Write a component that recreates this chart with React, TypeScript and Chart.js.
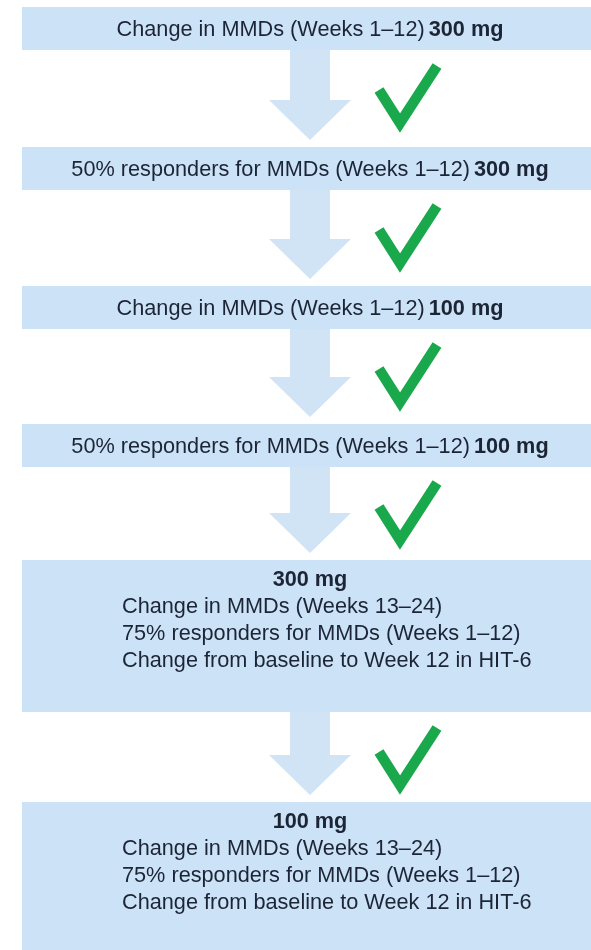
import React, { useEffect, useRef } from 'react';
import { Chart, registerables } from 'chart.js';

Chart.register(...registerables);

// ---- Data ----
const doses: string[] = ['300 mg', '300 mg', '100 mg', '100 mg', '300 mg', '100 mg'];
const endpoints: string[][] = [
  ['Change in MMDs (Weeks 1–12)'],
  ['50% responders for MMDs (Weeks 1–12)'],
  ['Change in MMDs (Weeks 1–12)'],
  ['50% responders for MMDs (Weeks 1–12)'],
  ['Change in MMDs (Weeks 13–24)', '75% responders for MMDs (Weeks 1–12)', 'Change from baseline to Week 12 in HIT-6'],
  ['Change in MMDs (Weeks 13–24)', '75% responders for MMDs (Weeks 1–12)', 'Change from baseline to Week 12 in HIT-6'],
];
const significant: boolean[] = [true, true, true, true, true];

// ---- Styles / layout (scale units) ----
const W = 591;
const H = 950;
const FONT = '"Liberation Sans", Arial, sans-serif';
const FONT_SIZE = 21.7;
const BOX_COLOR = '#cce2f6';
const ARROW_COLOR = '#d1e4f6';
const TEXT_COLOR = '#1c2536';
const CHECK_COLOR = '#19a84b';
const GAPS = [97, 96, 95, 93, 90];

const flowPlugin = {
  id: 'flow',
  beforeDraw(chart: any) {
    const { ctx, scales } = chart;
    const xs = scales.x;
    const ys = scales.y;
    const px = (v: number) => xs.getPixelForValue(v);
    const py = (v: number) => ys.getPixelForValue(v);

    const left = 22;
    const right = 620;
    const cx = 310;
    const singleH = 43;
    const multiH = 152;

    const boxes: { top: number; bottom: number }[] = [];
    let top = 7;
    endpoints.forEach((lines, i) => {
      const h = lines.length > 1 ? multiH : singleH;
      boxes.push({ top, bottom: top + h });
      top += h + (GAPS[i] ?? 95);
    });

    ctx.save();
    ctx.fillStyle = '#ffffff';
    ctx.fillRect(0, 0, chart.width, chart.height);

    for (let i = 0; i < boxes.length - 1; i++) {
      const b0 = boxes[i].bottom;
      const tip = boxes[i + 1].top - 7;
      const headStart = tip - 40;
      ctx.fillStyle = ARROW_COLOR;
      ctx.beginPath();
      ctx.moveTo(px(cx - 20), py(b0));
      ctx.lineTo(px(cx + 20), py(b0));
      ctx.lineTo(px(cx + 20), py(headStart));
      ctx.lineTo(px(cx + 41), py(headStart));
      ctx.lineTo(px(cx), py(tip));
      ctx.lineTo(px(cx - 41), py(headStart));
      ctx.lineTo(px(cx - 20), py(headStart));
      ctx.closePath();
      ctx.fill();

      if (significant[i]) {
        ctx.strokeStyle = CHECK_COLOR;
        ctx.lineWidth = 10.5;
        ctx.lineCap = 'butt';
        ctx.lineJoin = 'miter';
        ctx.beginPath();
        ctx.moveTo(px(379), py(b0 + 40));
        ctx.lineTo(px(400), py(b0 + 73));
        ctx.lineTo(px(437), py(b0 + 16));
        ctx.stroke();
      }
    }

    boxes.forEach((b) => {
      ctx.fillStyle = BOX_COLOR;
      ctx.fillRect(px(left), py(b.top), px(right) - px(left), py(b.bottom) - py(b.top));
    });

    ctx.fillStyle = TEXT_COLOR;
    ctx.textBaseline = 'alphabetic';
    const reg = `${FONT_SIZE}px ${FONT}`;
    const bold = `bold ${FONT_SIZE}px ${FONT}`;
    endpoints.forEach((lines, i) => {
      const b = boxes[i];
      if (lines.length === 1) {
        ctx.font = reg;
        const w1 = ctx.measureText(lines[0]).width;
        ctx.font = bold;
        const w2 = ctx.measureText(doses[i]).width;
        const sp = 4;
        const total = w1 + sp + w2;
        const x0 = px(cx) - total / 2;
        const base = py((b.top + b.bottom) / 2 + 7.5);
        ctx.textAlign = 'left';
        ctx.font = reg;
        ctx.fillText(lines[0], x0, base);
        ctx.font = bold;
        ctx.fillText(doses[i], x0 + w1 + sp, base);
      } else {
        ctx.font = bold;
        ctx.textAlign = 'center';
        ctx.fillText(doses[i], px(cx), py(b.top + 26));
        ctx.font = reg;
        ctx.textAlign = 'left';
        lines.forEach((ln, j) => {
          ctx.fillText(ln, px(122), py(b.top + 26 + 27 * (j + 1)));
        });
      }
    });
    ctx.restore();
  },
};

export default function App() {
  const ref = useRef<HTMLCanvasElement | null>(null);
  useEffect(() => {
    document.body.style.margin = '0';
    const canvas = ref.current;
    if (!canvas) return;
    const chart = new Chart(canvas, {
      type: 'scatter',
      data: { datasets: [{ data: [] }] },
      options: {
        responsive: false,
        animation: false,
        devicePixelRatio: 1,
        layout: { padding: 0 },
        plugins: { legend: { display: false }, tooltip: { enabled: false } },
        scales: {
          x: { type: 'linear', min: 0, max: W, display: false },
          y: { type: 'linear', min: 0, max: H, reverse: true, display: false },
        },
      },
      plugins: [flowPlugin],
    });
    return () => chart.destroy();
  }, []);
  return (
    <div style={{ position: 'absolute', left: 0, top: 0, width: W, height: H }}>
      <canvas ref={ref} width={W} height={H} style={{ display: 'block' }} />
    </div>
  );
}
